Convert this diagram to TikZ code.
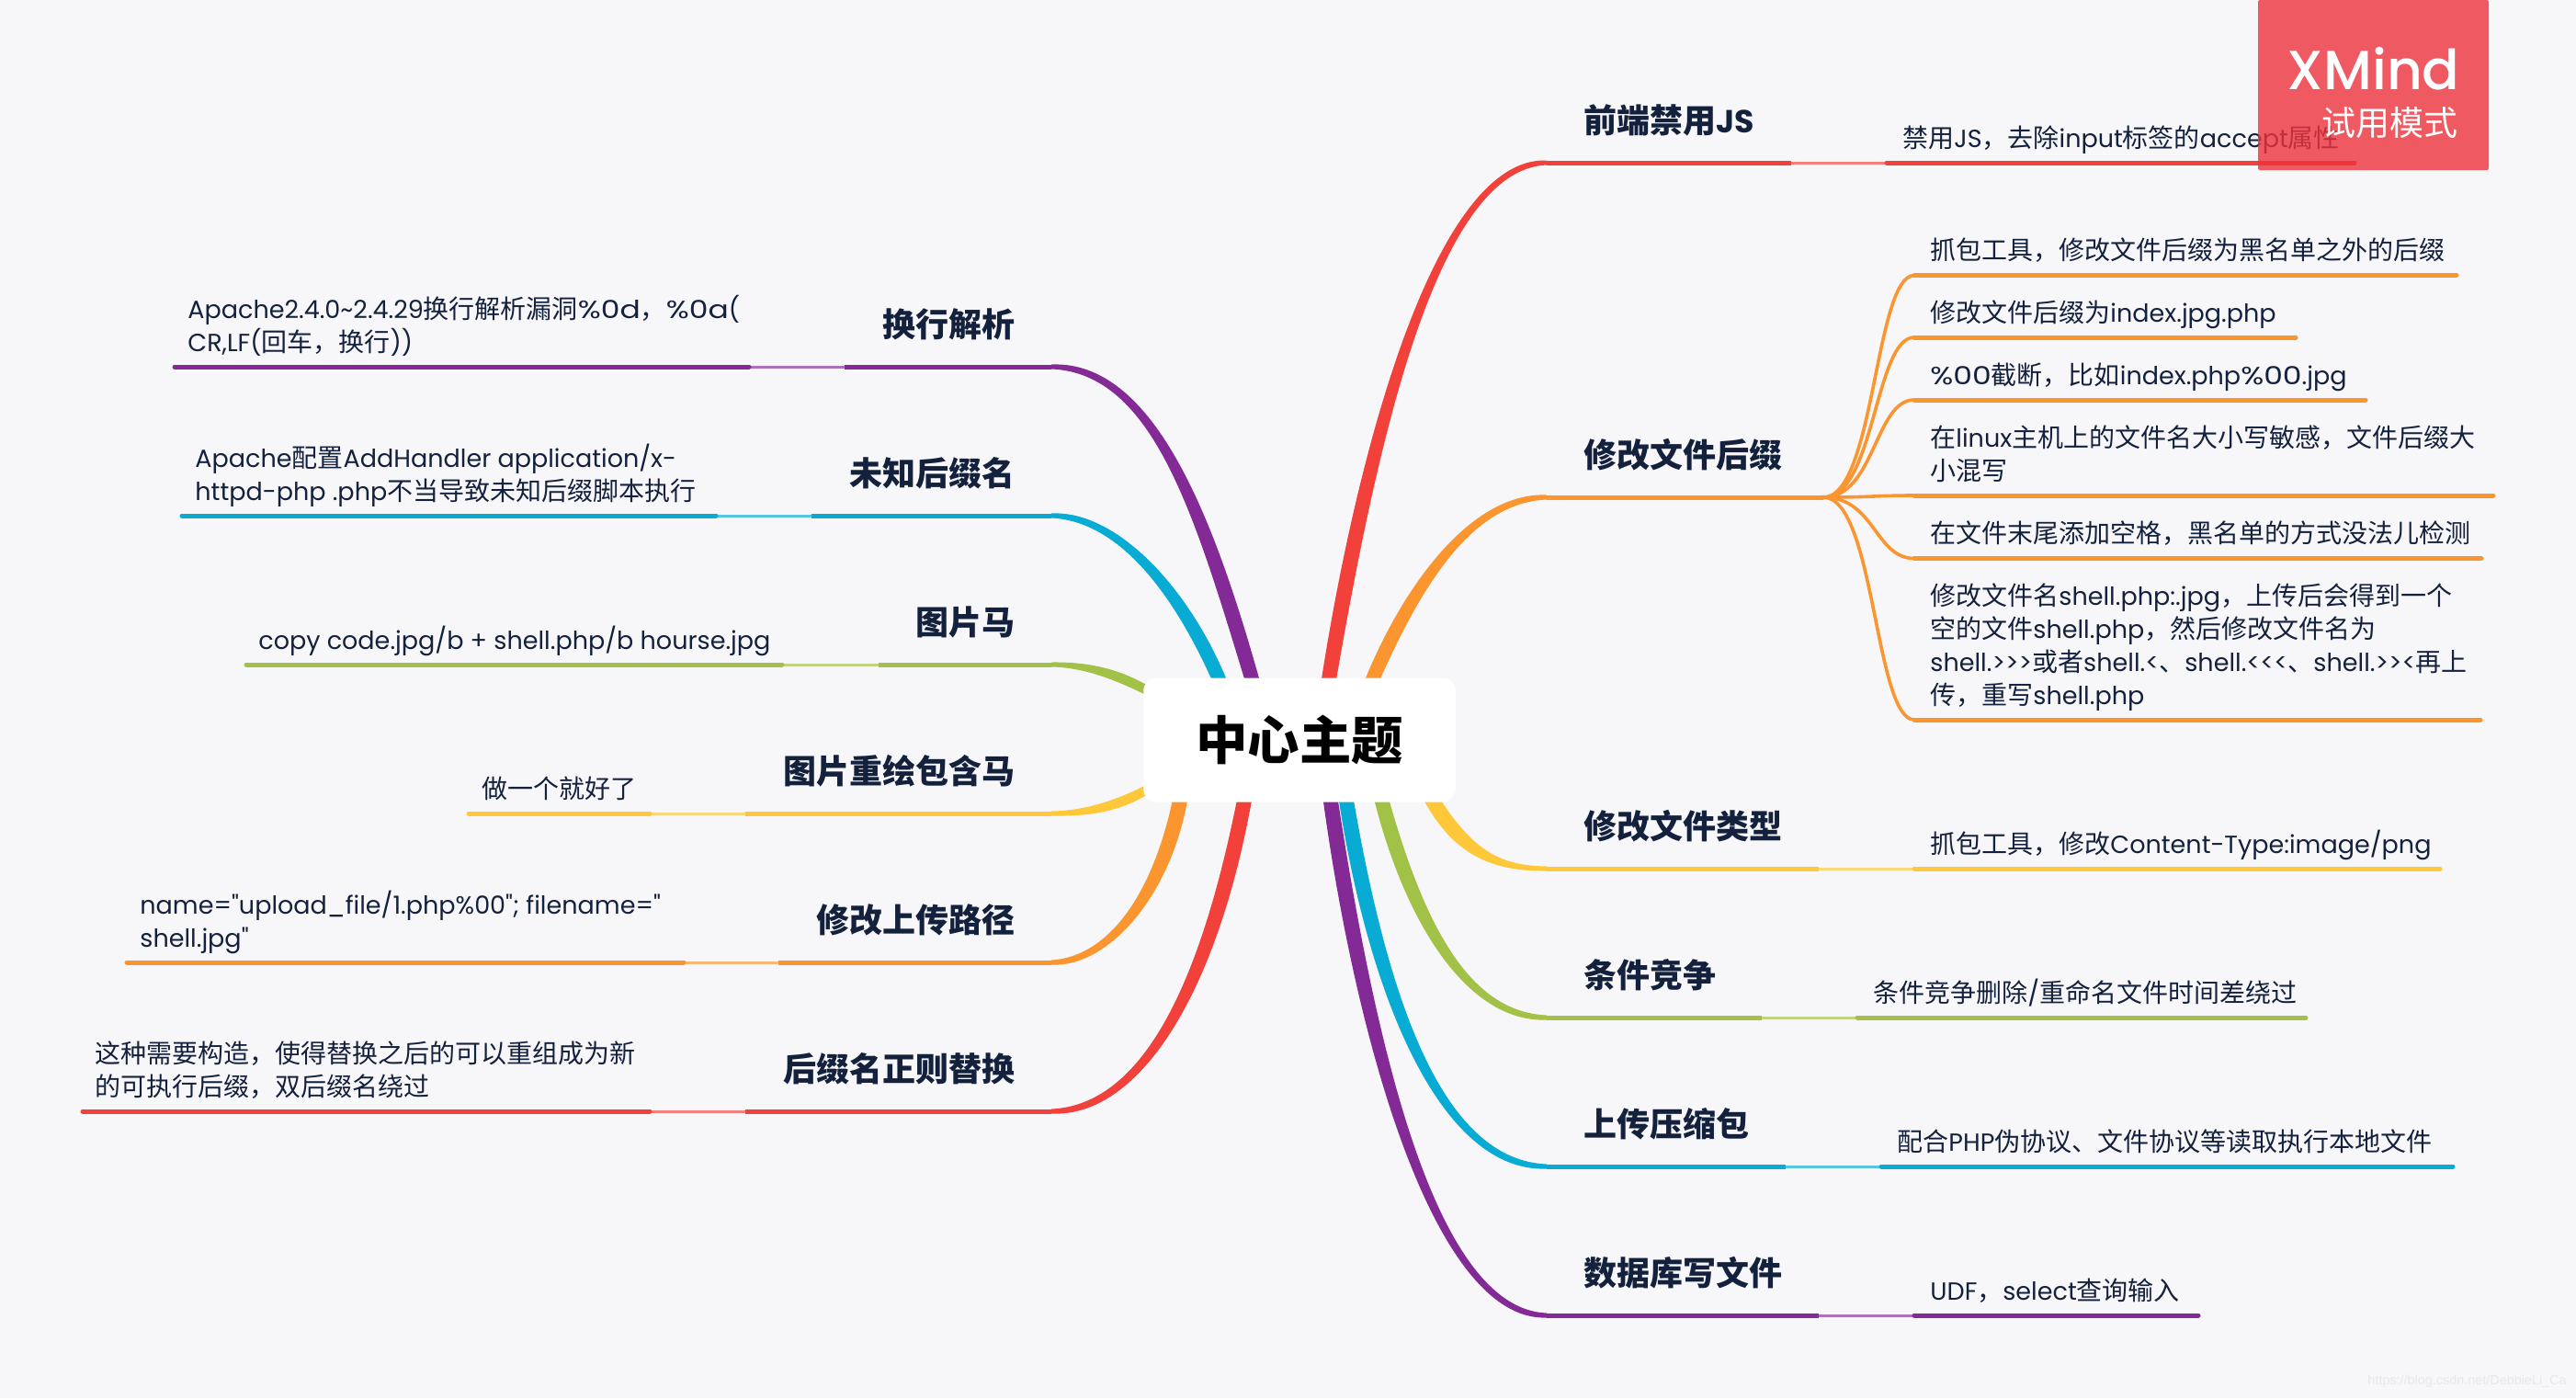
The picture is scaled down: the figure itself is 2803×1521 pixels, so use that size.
\documentclass[tikz,border=0pt]{standalone}
\usepackage{fontspec}
\setmainfont{Poppins}[Scale=0.965, Ligatures=TeXOff]
\newfontfamily\cjk{Noto Sans CJK SC}
\newfontfamily\marksf{Liberation Sans}
\newfontfamily\brandsf{Poppins Medium}
\usetikzlibrary{positioning, calc}

\definecolor{cbg}{HTML}{F7F7FA}
\definecolor{cink}{HTML}{14213D}
\definecolor{cred}{HTML}{F2413A}
\definecolor{corange}{HTML}{FB952F}
\definecolor{cyellow}{HTML}{FFC83A}
\definecolor{cgreen}{HTML}{A2C147}
\definecolor{cblue}{HTML}{07ABD3}
\definecolor{cpurple}{HTML}{842A96}
\definecolor{cbadge}{HTML}{EE333C}

% latin text in the main font, chinese in the cjk one
\newXeTeXintercharclass\cjkclass
\newcount\cjkcode
\cjkcode="3000
\loop \XeTeXcharclass\cjkcode=\cjkclass \advance\cjkcode 1 \ifnum\cjkcode<"3040 \repeat
\cjkcode="4E00
\loop \XeTeXcharclass\cjkcode=\cjkclass \advance\cjkcode 1 \ifnum\cjkcode<"A000 \repeat
\cjkcode="FF00
\loop \XeTeXcharclass\cjkcode=\cjkclass \advance\cjkcode 1 \ifnum\cjkcode<"FFF0 \repeat
\XeTeXinterchartoks 0 \cjkclass = {\cjk}
\XeTeXinterchartoks 4095 \cjkclass = {\cjk}
\XeTeXinterchartoks \cjkclass 0 = {\rmfamily}
\XeTeXinterchartoks 4095 0 = {\rmfamily}
\XeTeXinterchartokenstate=1
\newcommand{\nofontswitch}{\XeTeXinterchartokenstate=0\relax}

% digits of the original face run wider
\newcommand{\wider}[1]{\scalebox{1.22}[1]{#1}}

\tikzset{x=0.5pt, y=-0.5pt,
         root/.style={fill=white, rounded corners=7pt, minimum width=169.75pt, minimum height=67.5pt,
                      inner sep=0pt, text=black, font=\bfseries\fontsize{28.2}{30}\selectfont},
         topic/.style={anchor=base west, inner sep=0pt, text=cink, font=\bfseries\fontsize{18}{20}\selectfont},
         topicl/.style={topic, anchor=base east},
         leaf/.style={anchor=base west, inner sep=0pt, align=left, text=cink,
                      font=\fontsize{14}{18}\selectfont},
         trunk/.style={line width=2.5pt},
         gap/.style={line width=1.5pt, opacity=0.65},
         twig/.style={line width=2.5pt, line cap=round},
         sprig/.style={line width=1.8pt, corange},
         badge/.style={fill=cbadge, opacity=0.8, inner sep=0pt, minimum width=125.5pt, minimum height=92.5pt,
                       rounded corners=1pt},
         }

% colour, from, control, control, to, offset of the wide end, offset at the second control
\newcommand{\branch}[7]{
    \fill[#1] ($(#2)+(#6)$) .. controls ($(#3)+1.3*(#6)$) and ($(#4)+(0,-#7)$) .. ($(#5)+(0,-2.5)$)
        -- ($(#5)+(0,2.5)$) .. controls ($(#4)+(0,#7)$) and ($(#3)-1.3*(#6)$) .. ($(#2)-(#6)$) -- cycle;
}
% colour, name, the four x along the line, y
\newcommand{\stem}[7]{
    \coordinate (#2a) at (#3,#7);
    \coordinate (#2b) at (#4,#7);
    \coordinate (#2c) at (#5,#7);
    \coordinate (#2d) at (#6,#7);
    \draw[trunk, #1] (#2a) -- (#2b);
    \draw[gap, #1] (#2b) -- (#2c);
    \draw[twig, #1] (#2c) -- (#2d);
}

\begin{document}
\begin{tikzpicture}
    \fill[cbg] (0,0) rectangle (2803,1521);
    \useasboundingbox (0,0) rectangle (2803,1521);

    % where each branch leaves the central box
    \coordinate (o1) at (1445,745);
    \coordinate (o2) at (1491,745);
    \coordinate (o3) at (1555,865);
    \coordinate (o4) at (1502,865);
    \coordinate (o5) at (1464,865);
    \coordinate (o6) at (1447,865);
    \coordinate (p1) at (1364,745);
    \coordinate (p2) at (1329,745);
    \coordinate (p3) at (1250,752);
    \coordinate (p4) at (1250,858);
    \coordinate (p5) at (1285,865);
    \coordinate (p6) at (1355,865);

    % right side
    \stem{cred}{r1}{1683}{1949}{2053}{2562}{177}
    \stem{corange}{r2}{1683}{1984}{1984}{1984}{541}
    \stem{cyellow}{r3}{1683}{1979}{2083}{2655}{945}
    \stem{cgreen}{r4}{1683}{1917}{2021}{2509}{1107}
    \stem{cblue}{r5}{1683}{1943}{2047}{2669}{1269}
    \stem{cpurple}{r6}{1683}{1979}{2083}{2392}{1431}

    % left side
    \stem{cpurple}{l1}{1144}{919}{815}{190}{399}
    \stem{cblue}{l2}{1144}{883}{779}{198}{561}
    \stem{cgreen}{l3}{1144}{956}{851}{268}{723}
    \stem{cyellow}{l4}{1144}{811}{707}{510}{885}
    \stem{corange}{l5}{1144}{847}{744}{138}{1047}
    \stem{cred}{l6}{1144}{811}{707}{90}{1209}

    \branch{cred}{o1}{1485,500}{1560,177}{r1a}{-8,0}{7}
    \branch{corange}{o2}{1535,640}{1600,541}{r2a}{-8,0}{6}
    \branch{cyellow}{o3}{1590,925}{1625,945}{r3a}{6,-5}{3}
    \branch{cgreen}{o4}{1540,1010}{1600,1107}{r4a}{8,0}{6}
    \branch{cblue}{o5}{1500,1090}{1570,1269}{r5a}{8,0}{7}
    \branch{cpurple}{o6}{1485,1130}{1560,1431}{r6a}{8,0}{7}
    \branch{cpurple}{p1}{1310,560}{1255,399}{l1a}{8,0}{7}
    \branch{cblue}{p2}{1285,640}{1215,561}{l2a}{8,0}{6}
    \branch{cgreen}{p3}{1215,733}{1180,723}{l3a}{0,-5.5}{3}
    \branch{cyellow}{p4}{1215,878}{1180,885}{l4a}{0,-5.5}{3}
    \branch{corange}{p5}{1265,975}{1205,1047}{l5a}{-8,0}{6}
    \branch{cred}{p6}{1315,1080}{1240,1209}{l6a}{-8,0}{7}

    \node[root] (root) at (1414,805) {中心主题};

    % twigs of the second topic
    \coordinate (s1a) at (2083,299.5);
    \coordinate (s1b) at (2673,299.5);
    \coordinate (s2a) at (2083,367);
    \coordinate (s2b) at (2498,367);
    \coordinate (s3a) at (2083,435);
    \coordinate (s3b) at (2574,435);
    \coordinate (s4a) at (2083,539);
    \coordinate (s4b) at (2713,539);
    \coordinate (s5a) at (2083,607.5);
    \coordinate (s5b) at (2700,607.5);
    \coordinate (s6a) at (2083,783);
    \coordinate (s6b) at (2699,783);
    \draw[sprig] (r2b) .. controls +(56,0) and +(-43,0) .. (s1a);
    \draw[sprig] (r2b) .. controls +(56,0) and +(-43,0) .. (s2a);
    \draw[sprig] (r2b) .. controls +(56,0) and +(-43,0) .. (s3a);
    \draw[sprig] (r2b) .. controls +(56,0) and +(-43,0) .. (s4a);
    \draw[sprig] (r2b) .. controls +(56,0) and +(-43,0) .. (s5a);
    \draw[sprig] (r2b) .. controls +(56,0) and +(-43,0) .. (s6a);
    \draw[twig, corange] (s1a) -- (s1b);
    \draw[twig, corange] (s2a) -- (s2b);
    \draw[twig, corange] (s3a) -- (s3b);
    \draw[twig, corange] (s4a) -- (s4b);
    \draw[twig, corange] (s5a) -- (s5b);
    \draw[twig, corange] (s6a) -- (s6b);

    \node[topic] (t1) at (1723,144) {前端禁用JS};
    \node[topic] (t2) at (1723,508) {修改文件后缀};
    \node[topic] (t3) at (1723,912) {修改文件类型};
    \node[topic] (t4) at (1723,1074) {条件竞争};
    \node[topic] (t5) at (1723,1236) {上传压缩包};
    \node[topic] (t6) at (1723,1398) {数据库写文件};
    \node[topicl] (u1) at (1105,366) {换行解析};
    \node[topicl] (u2) at (1105,528) {未知后缀名};
    \node[topicl] (u3) at (1105,690) {图片马};
    \node[topicl] (u4) at (1105,852) {图片重绘包含马};
    \node[topicl] (u5) at (1105,1014) {修改上传路径};
    \node[topicl] (u6) at (1105,1176) {后缀名正则替换};

    \node[leaf] (a1) at (2070,160) {禁用JS，去除input标签的accept属性};
    \node[leaf] (b1) at (2100,282.5) {抓包工具，修改文件后缀为黑名单之外的后缀};
    \node[leaf] (b2) at (2100,350) {修改文件后缀为index.jpg.php};
    \node[leaf] (b3) at (2100,418) {\wider{\%00}截断，比如index.php\wider{\%00}.jpg};
    \node[leaf] (b4) at (2100,522) {在linux主机上的文件名大小写敏感，文件后缀大\\小混写};
    \node[leaf] (b5) at (2100,590.5) {在文件末尾添加空格，黑名单的方式没法儿检测};
    \node[leaf] (b6) at (2100,766) {修改文件名shell.php:.jpg，上传后会得到一个\\空的文件shell.php，然后修改文件名为\\shell.>>>或者shell.<、shell.<<<、shell.>><再上\\传，重写shell.php};
    \node[leaf] (c1) at (2100,928) {抓包工具，修改Content-Type:image/png};
    \node[leaf] (d1) at (2038,1090) {条件竞争删除/重命名文件时间差绕过};
    \node[leaf] (e1) at (2064,1252) {配合PHP伪协议、文件协议等读取执行本地文件};
    \node[leaf] (f1) at (2100,1414) {UDF，select查询输入};

    \node[leaf] (g1) at (204,382) {Apache2.4.0\textasciitilde2.4.29换行解析漏洞\wider{\%0d}，\wider{\%0a}(\\CR,LF(回车，换行))};
    \node[leaf] (g2) at (212,544) {Apache配置AddHandler application/x-\\httpd-php .php不当导致未知后缀脚本执行};
    \node[leaf] (g3) at (281,706) {copy code.jpg/b + shell.php/b hourse.jpg};
    \node[leaf] (g4) at (524,868) {做一个就好了};
    \node[leaf] (g5) at (152,1030) {name="upload\_file/1.php\%00"; filename="\\shell.jpg"};
    \node[leaf] (g6) at (103,1192) {这种需要构造，使得替换之后的可以重组成为新\\的可执行后缀，双后缀名绕过};

    \node[badge] (badge) at (2582.5,92.5) {};
    \node[anchor=base east, inner sep=0pt, text=white, font=\brandsf\fontsize{30}{32}\selectfont, execute at begin node=\nofontswitch] (brand) at (2677,97) {XMind};
    \node[anchor=base east, inner sep=0pt, text=white, font=\fontsize{18.5}{20}\selectfont] (trial) at (2675,147) {试用模式};

    \node[anchor=base east, inner sep=0pt, text=black!9, font=\marksf\fontsize{7.2}{9}\selectfont, execute at begin node=\nofontswitch] (mark) at (2793,1506) {https://blog.csdn.net/DebbieLi\_Ca};
\end{tikzpicture}
\end{document}
